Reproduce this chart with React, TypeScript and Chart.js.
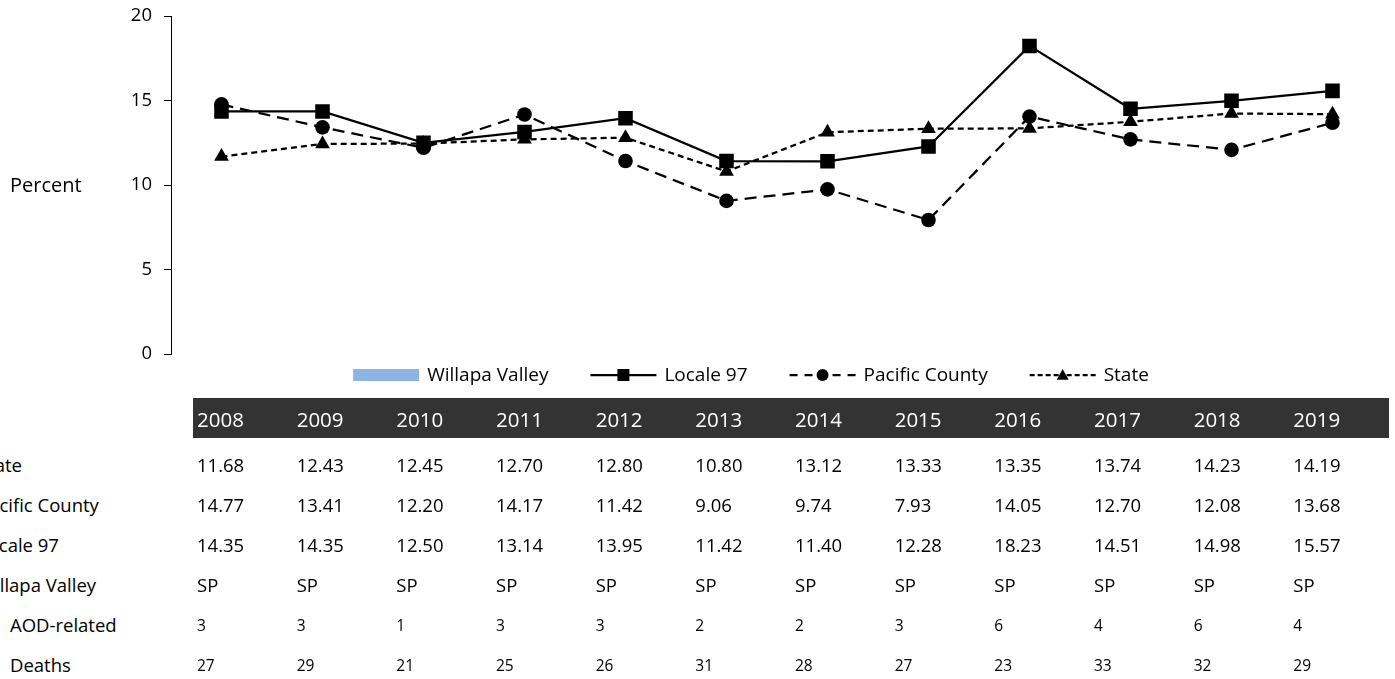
import React, { useEffect, useRef } from 'react';
import { Chart, registerables } from 'chart.js';

Chart.register(...registerables);

const years = ['2008', '2009', '2010', '2011', '2012', '2013', '2014', '2015', '2016', '2017', '2018', '2019'];
const stateVals = [11.68, 12.43, 12.45, 12.70, 12.80, 10.80, 13.12, 13.33, 13.35, 13.74, 14.23, 14.19];
const pacificVals = [14.77, 13.41, 12.20, 14.17, 11.42, 9.06, 9.74, 7.93, 14.05, 12.70, 12.08, 13.68];
const localeVals = [14.35, 14.35, 12.50, 13.14, 13.95, 11.42, 11.40, 12.28, 18.23, 14.51, 14.98, 15.57];
const willapaVals = ['SP', 'SP', 'SP', 'SP', 'SP', 'SP', 'SP', 'SP', 'SP', 'SP', 'SP', 'SP'];
const aodVals = [3, 3, 1, 3, 3, 2, 2, 3, 6, 4, 6, 4];
const deathVals = [27, 29, 21, 25, 26, 31, 28, 27, 23, 33, 32, 29];
const yTicks = [0, 5, 10, 15, 20];

const FONT = '"Open Sans", sans-serif';
const LEGEND_CX = 751;
const LEGEND_Y = 375;
const TABLE_LEFT = 193;
const TABLE_W = 1196;
const COL_W = TABLE_W / 12;

function drawMarker(ctx: CanvasRenderingContext2D, style: string, x: number, y: number, r: number) {
  ctx.fillStyle = '#000';
  ctx.beginPath();
  if (style === 'rect') {
    ctx.rect(x - r, y - r, 2 * r, 2 * r);
  } else if (style === 'circle') {
    ctx.arc(x, y, r, 0, Math.PI * 2);
  } else if (style === 'triangle') {
    ctx.moveTo(x, y - r);
    ctx.lineTo(x + r, y + r * 0.8);
    ctx.lineTo(x - r, y + r * 0.8);
    ctx.closePath();
  }
  ctx.fill();
}

const legendPlugin = {
  id: 'customLegend',
  afterDraw(chart: any) {
    const ctx: CanvasRenderingContext2D = chart.ctx;
    ctx.save();
    ctx.font = `19px ${FONT}`;
    const dss = chart.data.datasets;
    const symW = 66, gapT = 8, gapI = 42;
    let total = 0;
    dss.forEach((ds: any, i: number) => {
      total += symW + gapT + ctx.measureText(ds.label).width + (i < dss.length - 1 ? gapI : 0);
    });
    let x = LEGEND_CX - total / 2;
    const y = LEGEND_Y;
    dss.forEach((ds: any) => {
      if (ds.type === 'bar') {
        ctx.fillStyle = ds.backgroundColor;
        ctx.fillRect(x, y - 6, symW, 12);
      } else {
        ctx.strokeStyle = '#000';
        ctx.lineWidth = 2.25;
        const cx = x + symW / 2;
        ctx.setLineDash(ds.legendDash || []);
        ctx.beginPath();
        ctx.moveTo(x, y);
        ctx.lineTo(cx, y);
        ctx.stroke();
        ctx.beginPath();
        ctx.moveTo(x + symW, y);
        ctx.lineTo(cx, y);
        ctx.stroke();
        ctx.setLineDash([]);
        drawMarker(ctx, ds.pointStyle, cx, y, 6);
      }
      ctx.fillStyle = '#000';
      ctx.textBaseline = 'middle';
      ctx.textAlign = 'left';
      ctx.fillText(ds.label, x + symW + gapT, y + 1);
      x += symW + gapT + ctx.measureText(ds.label).width + gapI;
    });
    ctx.restore();
  },
};

export default function App() {
  const ref = useRef<HTMLCanvasElement>(null);

  useEffect(() => {
    if (!ref.current) return;
    const chart = new Chart(ref.current, {
      type: 'line',
      data: {
        labels: years,
        datasets: [
          {
            type: 'bar',
            label: 'Willapa Valley',
            data: willapaVals.map(() => null),
            backgroundColor: '#8EB4E3',
          } as any,
          {
            type: 'line',
            label: 'Locale 97',
            data: localeVals,
            borderColor: '#000',
            backgroundColor: '#000',
            borderWidth: 2.25,
            pointStyle: 'rect',
            pointRadius: 10.3,
            pointBorderWidth: 0,
            pointBackgroundColor: '#000',
            tension: 0,
            legendDash: [],
          } as any,
          {
            type: 'line',
            label: 'Pacific County',
            data: pacificVals,
            borderColor: '#000',
            backgroundColor: '#000',
            borderWidth: 2.25,
            borderDash: [12, 7],
            pointStyle: 'circle',
            pointRadius: 7.3,
            pointBorderWidth: 0,
            pointBackgroundColor: '#000',
            tension: 0,
            legendDash: [8, 7],
          } as any,
          {
            type: 'line',
            label: 'State',
            data: stateVals,
            borderColor: '#000',
            backgroundColor: '#000',
            borderWidth: 2.25,
            borderDash: [6, 4],
            pointStyle: 'triangle',
            pointRadius: 8.5,
            pointBorderWidth: 0,
            pointBackgroundColor: '#000',
            tension: 0,
            legendDash: [5, 3],
          } as any,
        ],
      },
      options: {
        animation: false,
        responsive: false,
        layout: { padding: { top: 16, right: 12, bottom: 46, left: 0 } },
        plugins: {
          legend: { display: false },
          tooltip: { enabled: false },
        },
        scales: {
          x: {
            display: false,
            offset: true,
          },
          y: {
            min: 0,
            max: 20,
            afterFit: (scale: any) => {
              scale.width = 171;
              scale.paddingTop = 0;
              scale.paddingBottom = 0;
            },
            afterBuildTicks: (scale: any) => {
              scale.ticks = yTicks.map((v) => ({ value: v }));
            },
            ticks: {
              color: '#000',
              padding: 12,
              font: { family: FONT, size: 18.5 },
            },
            grid: {
              drawOnChartArea: false,
              drawTicks: true,
              tickLength: 7,
              color: '#000',
              lineWidth: 1,
            },
            border: { display: true, color: '#000', width: 1 },
          },
        },
      },
      plugins: [legendPlugin],
    } as any);
    return () => chart.destroy();
  }, []);

  const rows: { label: string; vals: (string | number)[]; indent: boolean; small: boolean }[] = [
    { label: 'State', vals: stateVals.map((v) => v.toFixed(2)), indent: false, small: false },
    { label: 'Pacific County', vals: pacificVals.map((v) => v.toFixed(2)), indent: false, small: false },
    { label: 'Locale 97', vals: localeVals.map((v) => v.toFixed(2)), indent: false, small: false },
    { label: 'Willapa Valley', vals: willapaVals, indent: false, small: false },
    { label: 'AOD-related', vals: aodVals, indent: true, small: true },
    { label: 'Deaths', vals: deathVals, indent: true, small: true },
  ];

  const cellStyle = (left: number, top: number, size: number, color = '#000'): React.CSSProperties => ({
    position: 'absolute',
    left,
    top,
    height: 40,
    lineHeight: '40px',
    fontSize: size,
    fontFamily: FONT,
    color,
    whiteSpace: 'nowrap',
  });

  return (
    <div style={{ position: 'absolute', left: 0, top: 0, width: 1395, height: 679, overflow: 'hidden', background: '#fff' }}>
      <canvas ref={ref} width={1395} height={400} style={{ position: 'absolute', left: 0, top: 0 }} />
      <div style={{ ...cellStyle(10, 165, 20) }}>Percent</div>
      <div style={{ position: 'absolute', left: TABLE_LEFT, top: 398, width: TABLE_W, height: 40, background: '#333333' }} />
      {years.map((yr, i) => (
        <div key={yr} style={cellStyle(TABLE_LEFT + i * COL_W + 4, 399, 20.5, '#fff')}>{yr}</div>
      ))}
      {rows.map((row, r) => (
        <React.Fragment key={row.label}>
          <div style={cellStyle(row.indent ? 10 : -22, 445 + r * 40, 18.5)}>{row.label}</div>
          {row.vals.map((v, i) => (
            <div key={i} style={cellStyle(TABLE_LEFT + i * COL_W + 4, 445 + r * 40, row.small ? 15.5 : 18.5)}>{v}</div>
          ))}
        </React.Fragment>
      ))}
    </div>
  );
}
